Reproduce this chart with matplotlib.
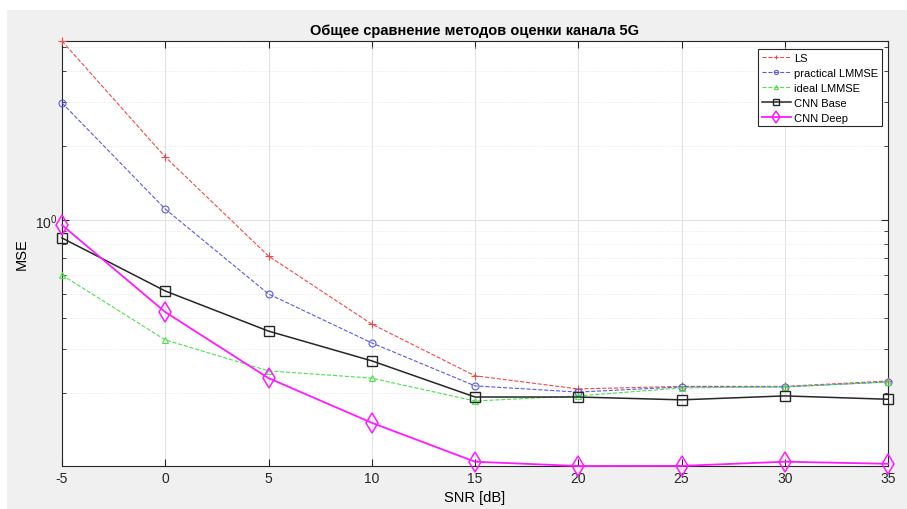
import matplotlib
matplotlib.use("Agg")
import matplotlib.pyplot as plt
from matplotlib.patches import Rectangle
from matplotlib.ticker import LogLocator, NullFormatter

snr = [-5, 0, 5, 10, 15, 20, 25, 30, 35]
mse_ls = [5.31, 1.80, 0.715, 0.379, 0.234, 0.207, 0.212, 0.212, 0.223]
mse_lmmse_practical = [2.98, 1.108, 0.502, 0.318, 0.213, 0.201, 0.211, 0.211, 0.221]
mse_lmmse_ideal = [0.599, 0.327, 0.245, 0.229, 0.185, 0.194, 0.209, 0.211, 0.221]
mse_cnn_base = [0.846, 0.516, 0.355, 0.269, 0.192, 0.192, 0.187, 0.194, 0.188]
mse_cnn_deep = [0.954, 0.424, 0.229, 0.151, 0.105, 0.1009, 0.101, 0.105, 0.103]

plt.rcParams['font.family'] = ['Liberation Sans', 'DejaVu Sans']

fig = plt.figure(figsize=(9.07, 5.10), dpi=100, facecolor="#f0f0f0")
# white screenshot margin at top / left
fig.patches.append(Rectangle((0, 1 - 11 / 510), 1, 11 / 510, transform=fig.transFigure,
                             facecolor="white", edgecolor="none", zorder=-1))
fig.patches.append(Rectangle((0, 0), 7 / 907, 1, transform=fig.transFigure,
                             facecolor="white", edgecolor="none", zorder=-1))

ax = fig.add_axes([62 / 907, 1 - 467 / 510, (888 - 62) / 907, (467 - 42) / 510])
ax.set_facecolor("white")

common = dict(clip_on=False, zorder=3)
ax.semilogy(snr, mse_ls, "--+", color="#f04a4a", lw=0.8, ms=6, mew=0.8,
            label="LS", **common)
ax.semilogy(snr, mse_lmmse_practical, "--o", color="#5a5ae6", lw=0.8, ms=5, mew=0.8,
            mfc="none", label="practical LMMSE", **common)
ax.semilogy(snr, mse_lmmse_ideal, "--^", color="#4ee04e", lw=0.8, ms=5, mew=0.8,
            mfc="none", label="ideal LMMSE", **common)
ax.semilogy(snr, mse_cnn_base, "-s", color="#262626", lw=1.1, ms=7, mew=1.0,
            mfc="none", label="CNN Base", **common)
ax.semilogy(snr, mse_cnn_deep, "-d", color="#ff1aff", lw=1.3, ms=10, mew=1.1,
            mfc="none", label="CNN Deep", **common)

all_vals = mse_ls + mse_lmmse_practical + mse_lmmse_ideal + mse_cnn_base + mse_cnn_deep
ax.set_xlim(min(snr), max(snr))
ax.set_ylim(min(all_vals), max(all_vals))
ax.set_xticks(snr)
ax.set_xticklabels([str(s) for s in snr])
ax.yaxis.set_major_locator(LogLocator(base=10, numticks=10))
ax.yaxis.set_minor_locator(LogLocator(base=10, subs=range(2, 10), numticks=10))
ax.yaxis.set_minor_formatter(NullFormatter())

ax.tick_params(which="both", direction="in", top=True, right=True, colors="#262626",
               labelsize=10)
ax.tick_params(which="major", length=5)
ax.tick_params(which="minor", length=3)
for s in ax.spines.values():
    s.set_color("#262626")
    s.set_linewidth(0.8)

ax.grid(True, which="major", color="#dcdcdc", lw=0.6)
ax.grid(True, which="minor", axis="y", color="#e2e2e2", lw=0.6, ls=":")

ax.set_title("Общее сравнение методов оценки канала 5G", fontsize=10.5,
             fontweight="bold", pad=5)
ax.set_xlabel("SNR [dB]", fontsize=10.5, labelpad=4)
ax.set_ylabel("MSE", fontsize=10.5, labelpad=4)

leg = ax.legend(loc="upper right", fontsize=8, frameon=True, fancybox=False,
                framealpha=1, markerscale=0.6, borderpad=0.35, labelspacing=0.45,
                handlelength=2.6, handletextpad=0.3, borderaxespad=0.0,
                bbox_to_anchor=(0.993, 0.982))
leg.get_frame().set_edgecolor("#262626")
leg.get_frame().set_linewidth(0.8)
leg.set_zorder(5)

fig.savefig("out.png", dpi=100, facecolor=fig.get_facecolor())
